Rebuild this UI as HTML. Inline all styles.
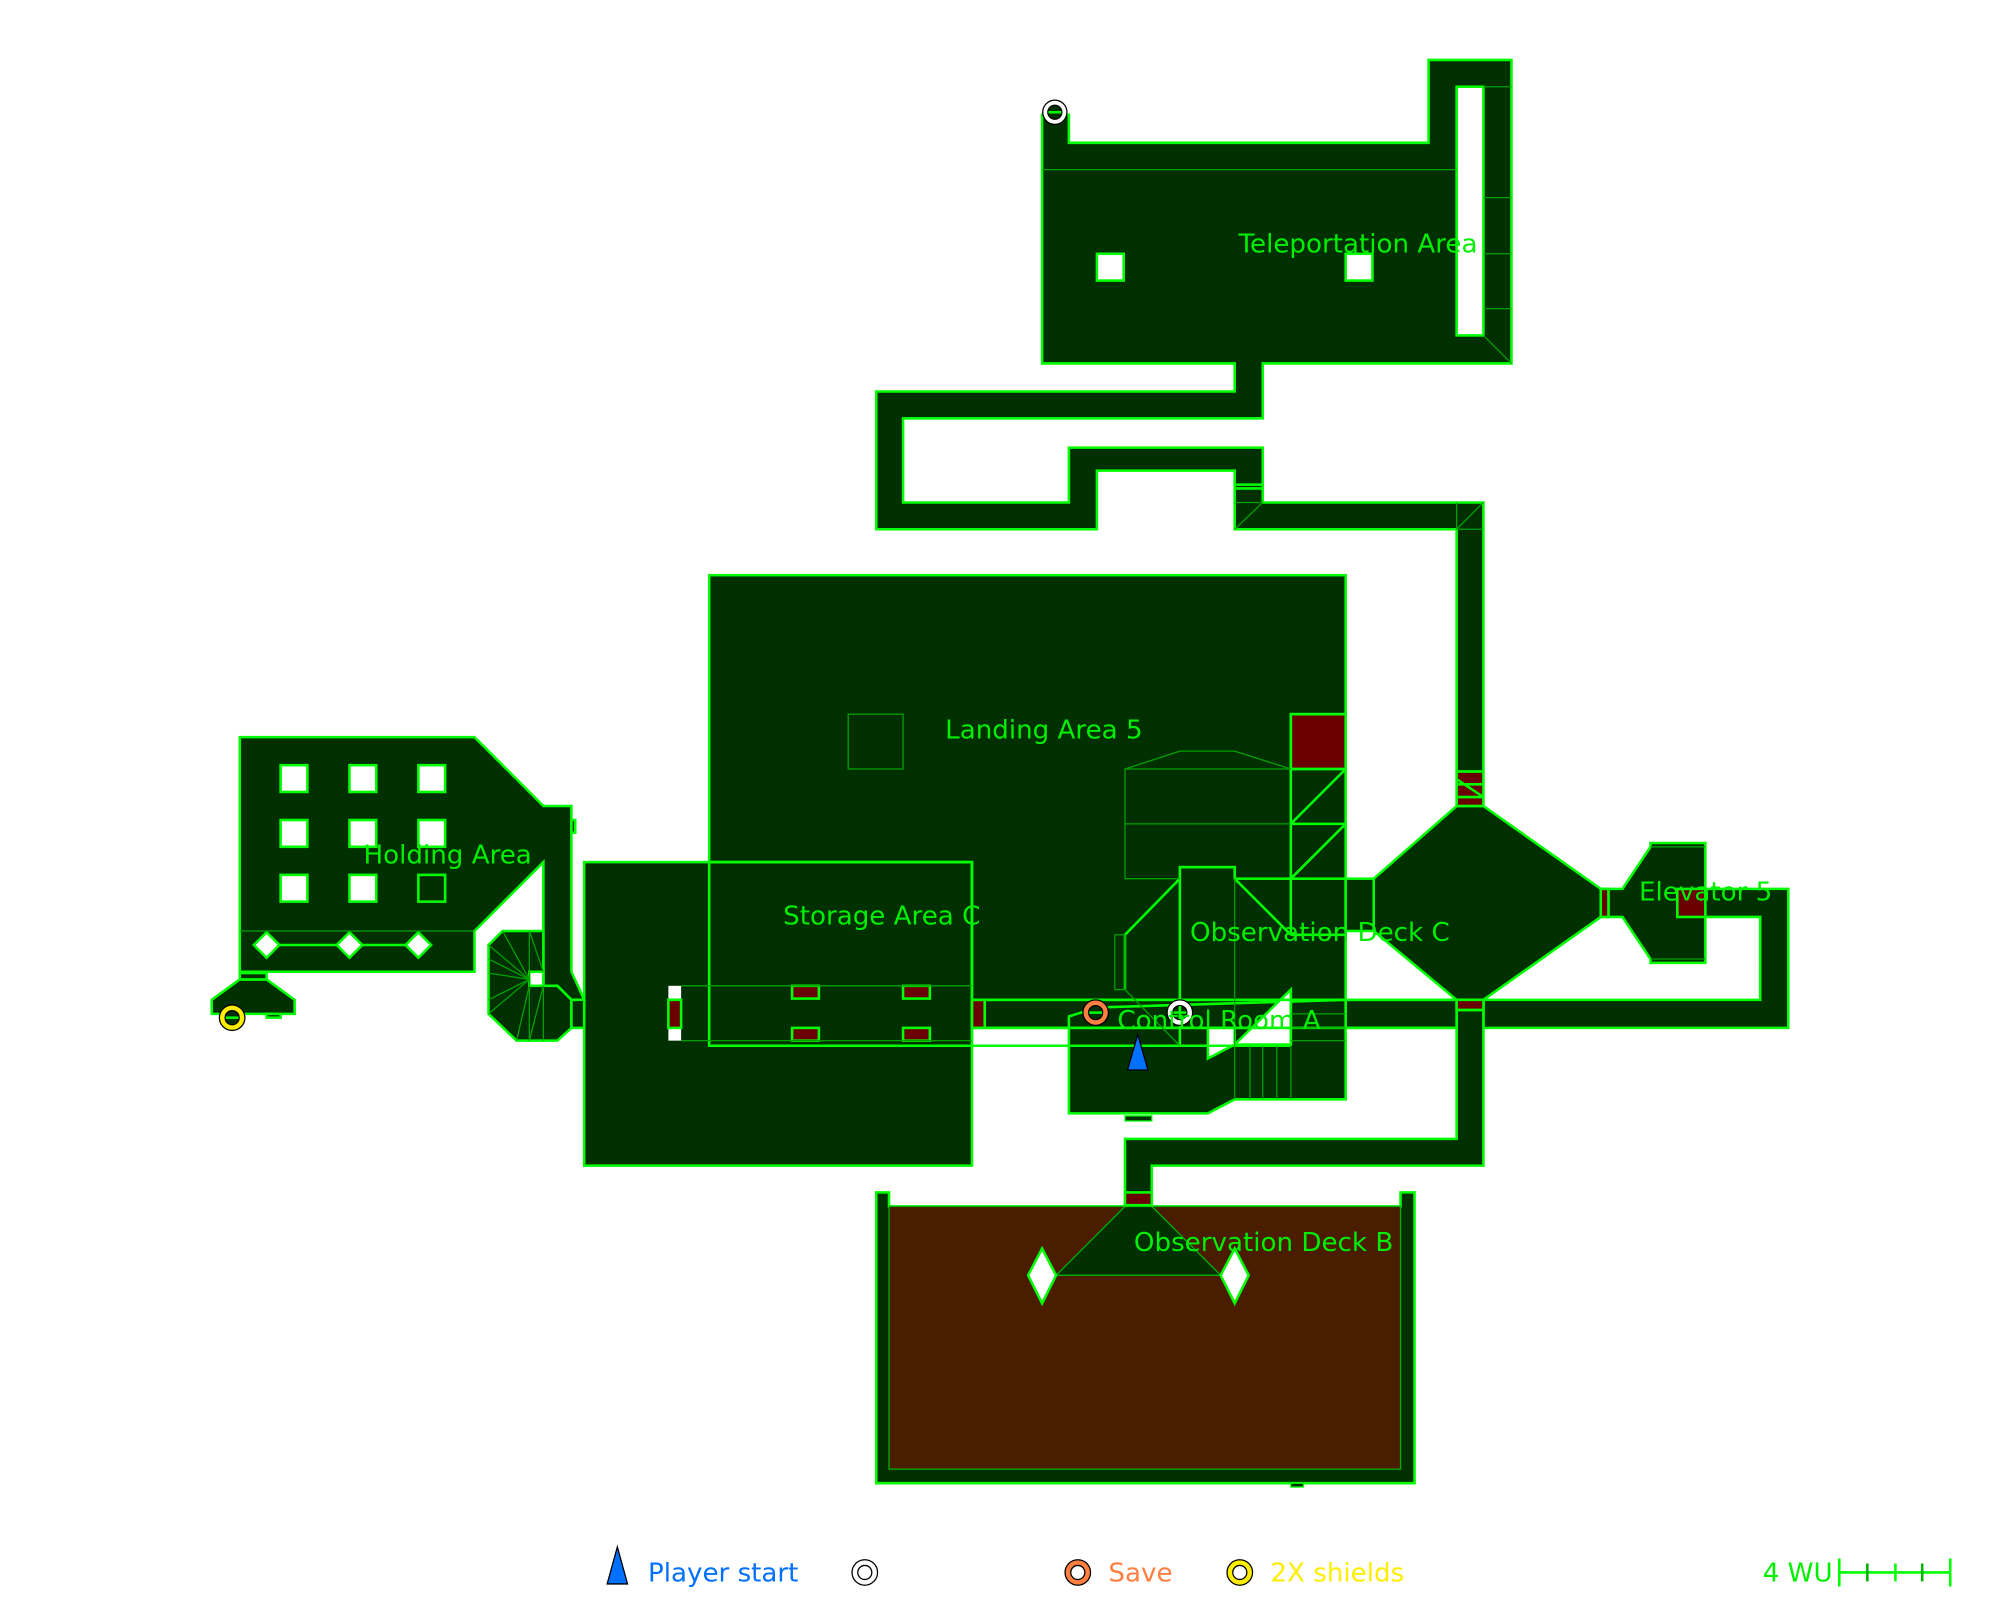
<!DOCTYPE html>
<html><head><meta charset="utf-8"><style>
html,body{margin:0;padding:0;background:#fff;}
svg{display:block;}
text{font-family:"DejaVu Sans","Liberation Sans",sans-serif;}
</style></head><body>
<svg width="2000" height="1600" viewBox="0 0 1568 1254.6" preserveAspectRatio="none" xmlns="http://www.w3.org/2000/svg">
<g fill="#003000" stroke="#00ff00" stroke-width="2" stroke-linejoin="miter">
<polygon points="817,285 817,90 838,90 838,112 1120,112 1120,47 1185,47 1185,285 990,285 990,328 708,328 708,394 838,394 838,351 990,351 990,394 1163,394 1163,605 1142,605 1142,415 968,415 968,369 860,369 860,415 687,415 687,307 968,307 968,285"/>
<rect x="556" y="451" width="499" height="335"/>
<rect x="458" y="676" width="304" height="238"/>
<polygon points="188,578 372,578 426,632 448,632 448,762 458,784 448,784 437,773 426,773 426,676 372,730 372,762 188,762"/>
<polygon points="383,741 394,730 426,730 426,773 437,773 448,784 448,806 437,816 405,816 383,795"/>
<rect x="448" y="784" width="10" height="22"/>
<polygon points="166,784 188,768 209,768 231,784 231,795 166,795"/>
<rect x="188" y="763" width="21" height="5"/>
<rect x="209" y="795" width="11" height="3"/>
<rect x="448" y="643" width="3" height="10"/>
<polygon points="1077,689 1142,632 1163,632 1255,697 1255,719 1163,784 1142,784 1077,730"/>
<rect x="1055" y="689" width="22" height="41"/>
<rect x="1255" y="697" width="6" height="22"/>
<polygon points="1261,697 1272,697 1294,664 1294,661 1337,661 1337,697 1402,697 1402,806 1163,806 1163,784 1380,784 1380,719 1337,719 1337,755 1294,755 1294,752 1272,719 1261,719"/>
<polygon points="1142,784 1163,784 1163,914 903,914 903,946 882,946 882,893 1142,893"/>
<rect x="772" y="784" width="370" height="22"/>
<polygon points="687,935 697,935 697,946 1098,946 1098,935 1109,935 1109,1163 687,1163"/>
<polygon points="838,797 860,790 1055,784 1055,862 968,862 947,873 838,873"/>
</g>
<rect x="697" y="946" width="401" height="206" fill="#4a1c00" stroke="#00b000" stroke-width="1"/>
<polygon points="828,1000 882,946 903,946 957,1000" fill="#003000" stroke="#00b000" stroke-width="1"/>
<rect x="1012" y="1163" width="10" height="3" fill="#003000" stroke="#00ff00" stroke-width="1"/>
<rect x="882" y="875" width="21" height="4" fill="#003000" stroke="#00ff00" stroke-width="1"/>

<g fill="#fff" stroke="#00ff00" stroke-width="2">
<rect x="1142" y="68" width="21" height="195"/>
<rect x="860" y="199" width="21" height="21"/>
<rect x="1055" y="199" width="21" height="21"/>
<rect x="220" y="600" width="21" height="21"/><rect x="274" y="600" width="21" height="21"/><rect x="328" y="600" width="21" height="21"/>
<rect x="220" y="643" width="21" height="21"/><rect x="274" y="643" width="21" height="21"/><rect x="328" y="643" width="21" height="21"/>
<rect x="220" y="686" width="21" height="21"/><rect x="274" y="686" width="21" height="21"/>
<rect x="328" y="686" width="21" height="21" fill="#003000"/>
<rect x="415" y="762" width="11" height="11"/>
<line x1="209" y1="741" x2="328" y2="741"/>
<polygon points="209,731 219,741 209,751 199,741"/>
<polygon points="274,731 284,741 274,751 264,741"/>
<polygon points="328,731 338,741 328,751 318,741"/>
<polygon points="817,979 828,1000 817,1022 806,1000"/>
<polygon points="968,979 979,1000 968,1022 957,1000"/>
<polygon points="968,819 1012,776 1012,819" />
<polygon points="947,806 968,806 968,819 947,830"/>
</g>
<g fill="#fff" stroke="none">
<rect x="524" y="773" width="10" height="10"/><rect x="524" y="806" width="10" height="10"/>
</g>

<g fill="#6b0000" stroke="#00ff00" stroke-width="2">
<rect x="1012" y="560" width="43" height="43"/>
<rect x="1142" y="605" width="21" height="27"/>
<rect x="1142" y="784" width="21" height="8"/>
<rect x="882" y="935" width="21" height="10"/>
<rect x="1315" y="697" width="22" height="22"/>
<rect x="1255" y="697" width="6" height="22"/>
<rect x="524" y="784" width="10" height="22"/>
<rect x="762" y="784" width="10" height="22"/>
<rect x="621" y="773" width="21" height="10"/><rect x="708" y="773" width="21" height="10"/>
<rect x="621" y="806" width="21" height="10"/><rect x="708" y="806" width="21" height="10"/>
</g>

<g fill="none" stroke="#00ff00" stroke-width="2">
<rect x="556" y="676" width="206" height="144"/>
<line x1="762" y1="784" x2="1142" y2="784"/>
<line x1="762" y1="806" x2="1142" y2="806"/>
<line x1="762" y1="820" x2="1012" y2="820"/>
<line x1="1012" y1="560" x2="1055" y2="560"/>
<line x1="1012" y1="560" x2="1012" y2="733"/>
<line x1="1012" y1="603" x2="1055" y2="603"/>
<line x1="1012" y1="646" x2="1055" y2="646"/>
<line x1="1012" y1="646" x2="1055" y2="603"/>
<line x1="1012" y1="689" x2="1055" y2="646"/>
<line x1="1012" y1="733" x2="1055" y2="733"/>
<polyline points="882,776 882,733 925,689 925,680 968,680 968,689 1012,733"/>
<line x1="925" y1="689" x2="925" y2="820"/>
<line x1="968" y1="689" x2="1055" y2="689"/>
<line x1="838" y1="806" x2="1012" y2="806"/>
<line x1="1012" y1="776" x2="1012" y2="819"/>
<line x1="1142" y1="615" x2="1163" y2="615"/>
<line x1="1142" y1="611" x2="1163" y2="625"/>
<line x1="1142" y1="625" x2="1163" y2="625"/>
<line x1="1142" y1="792" x2="1163" y2="792"/>
<line x1="968" y1="380" x2="990" y2="380"/>
<line x1="968" y1="383" x2="990" y2="383"/>
</g>

<g fill="none" stroke="#00a000" stroke-width="1">
<line x1="817" y1="133" x2="1142" y2="133"/>
<line x1="1163" y1="68" x2="1185" y2="68"/>
<line x1="1163" y1="155" x2="1185" y2="155"/>
<line x1="1163" y1="199" x2="1185" y2="199"/>
<line x1="1163" y1="242" x2="1185" y2="242"/>
<line x1="1163" y1="263" x2="1185" y2="285"/>
<line x1="968" y1="394" x2="990" y2="394"/>
<line x1="968" y1="415" x2="990" y2="394"/>
<line x1="1142" y1="415" x2="1163" y2="394"/>
<line x1="1142" y1="394" x2="1142" y2="415"/>
<line x1="1142" y1="415" x2="1163" y2="415"/>
<rect x="665" y="560" width="43" height="43"/>
<polyline points="882,689 882,603 925,589 968,589 1012,603"/>
<line x1="882" y1="603" x2="1012" y2="603"/>
<line x1="882" y1="646" x2="1012" y2="646"/>
<line x1="882" y1="689" x2="925" y2="689"/>
<line x1="968" y1="689" x2="968" y2="862"/>
<rect x="874" y="733" width="8" height="43"/>
<line x1="882" y1="776" x2="925" y2="820"/>
<line x1="534" y1="773" x2="762" y2="773"/>
<line x1="534" y1="816" x2="762" y2="816"/>
<line x1="980" y1="820" x2="980" y2="862"/><line x1="990" y1="820" x2="990" y2="862"/>
<line x1="1001" y1="820" x2="1001" y2="862"/><line x1="1012" y1="820" x2="1012" y2="862"/>
<line x1="1012" y1="795" x2="1055" y2="795"/><line x1="1012" y1="806" x2="1055" y2="806"/>
<line x1="1012" y1="816" x2="1055" y2="816"/>
<line x1="188" y1="730" x2="372" y2="730"/>
<line x1="1294" y1="664" x2="1337" y2="664"/>
<line x1="1294" y1="752" x2="1337" y2="752"/>
<line x1="415" y1="768" x2="383" y2="741"/>
<line x1="415" y1="768" x2="383" y2="752"/>
<line x1="415" y1="768" x2="383" y2="763"/>
<line x1="415" y1="768" x2="394" y2="730"/>
<line x1="415" y1="768" x2="383" y2="784"/>
<line x1="415" y1="768" x2="383" y2="795"/>
<line x1="415" y1="730" x2="415" y2="816"/>
<line x1="426" y1="773" x2="426" y2="816"/>
<line x1="415" y1="773" x2="405" y2="816"/>
<line x1="426" y1="773" x2="415" y2="816"/>
<line x1="426" y1="762" x2="415" y2="730"/>
</g>

<circle cx="827" cy="88" r="9.5" fill="#fff" stroke="#000" stroke-width="1"/>
<circle cx="827" cy="88" r="5.5" fill="#003000" stroke="#000" stroke-width="1"/>
<line x1="822" y1="88" x2="832" y2="88" stroke="#00ff00" stroke-width="2"/>
<circle cx="182" cy="798" r="10" fill="#ffee00" stroke="#000" stroke-width="1"/>
<circle cx="182" cy="798" r="5.5" fill="#003000" stroke="#000" stroke-width="1"/>
<line x1="177" y1="798" x2="187" y2="798" stroke="#00ff00" stroke-width="2"/>
<circle cx="859" cy="794" r="10" fill="#ff7f40" stroke="#000" stroke-width="1"/>
<circle cx="859" cy="794" r="5.5" fill="#003000" stroke="#000" stroke-width="1"/>
<line x1="854" y1="794" x2="864" y2="794" stroke="#00ff00" stroke-width="2"/>
<circle cx="925" cy="794" r="10" fill="#fff" stroke="#000" stroke-width="1"/>
<circle cx="925" cy="794" r="5.5" fill="#003000" stroke="#000" stroke-width="1"/>
<line x1="920" y1="794" x2="930" y2="794" stroke="#00ff00" stroke-width="2"/>
<line x1="925" y1="789" x2="925" y2="799" stroke="#00ff00" stroke-width="2"/>
<polygon points="892,811 900,839 884,839" fill="#0070ff" stroke="#000" stroke-width="1"/>

<g fill="#00ee00" font-size="20.5">
<text x="971" y="198">Teleportation Area</text>
<text x="741" y="579">Landing Area 5</text>
<text x="285" y="677">Holding Area</text>
<text x="614" y="725">Storage Area C</text>
<text x="933" y="738">Observation Deck C</text>
<text x="1285" y="706">Elevator 5</text>
<text x="876" y="807">Control Room A</text>
<text x="889" y="981">Observation Deck B</text>
</g>

<polygon points="484,1213 492,1242 476,1242" fill="#0070ff" stroke="#000" stroke-width="1"/>
<text x="508" y="1240" font-size="20.5" fill="#0070ff">Player start</text>
<circle cx="678" cy="1233" r="10" fill="#fff" stroke="#000" stroke-width="1"/>
<circle cx="678" cy="1233" r="5.5" fill="#fff" stroke="#000" stroke-width="1"/>
<circle cx="845" cy="1233" r="10" fill="#ff7f40" stroke="#000" stroke-width="1"/>
<circle cx="845" cy="1233" r="5.5" fill="#fff" stroke="#000" stroke-width="1"/>
<text x="869" y="1240" font-size="20.5" fill="#ff7f40">Save</text>
<circle cx="972" cy="1233" r="10" fill="#ffee00" stroke="#000" stroke-width="1"/>
<circle cx="972" cy="1233" r="5.5" fill="#fff" stroke="#000" stroke-width="1"/>
<text x="996" y="1240" font-size="20.5" fill="#ffee00">2X shields</text>
<text x="1382" y="1240" font-size="20.5" fill="#00ee00">4 WU</text>
<g stroke="#00ff00" stroke-width="2">
<line x1="1442" y1="1233" x2="1529" y2="1233"/>
<line x1="1442" y1="1222" x2="1442" y2="1244"/>
<line x1="1529" y1="1222" x2="1529" y2="1244"/>
<line x1="1464" y1="1226" x2="1464" y2="1240" stroke="#00b000"/>
<line x1="1486" y1="1226" x2="1486" y2="1240"/>
<line x1="1507" y1="1226" x2="1507" y2="1240" stroke="#00b000"/>
</g>
</svg>
</body></html>
